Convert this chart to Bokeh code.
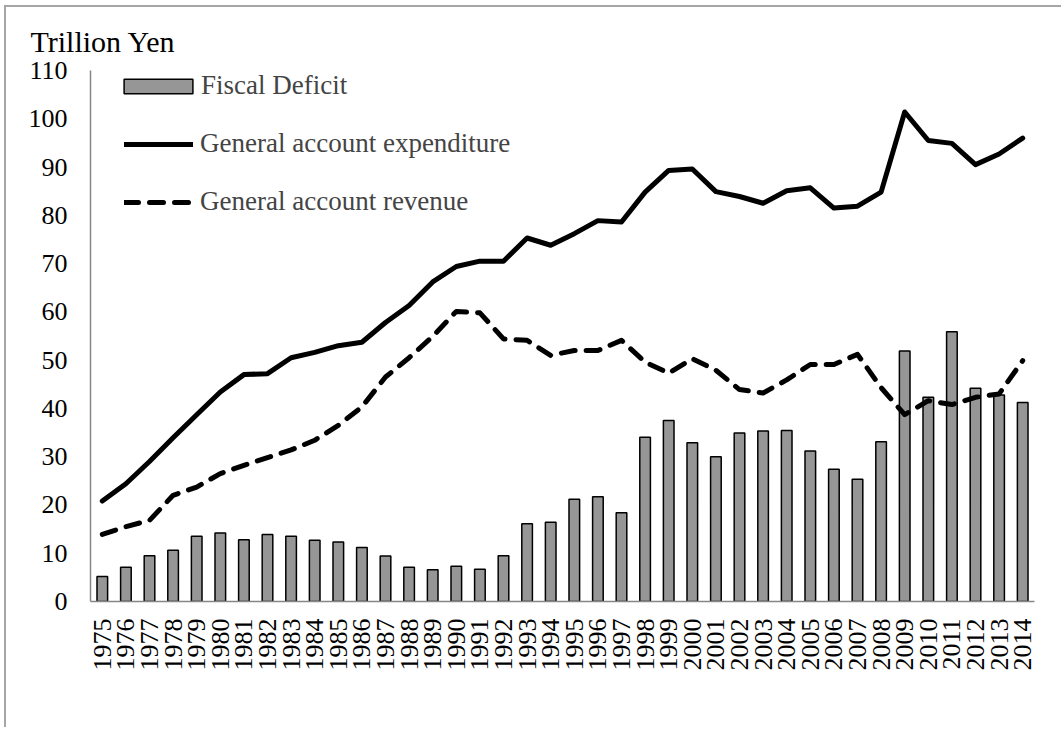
import math
from bokeh.plotting import figure
from bokeh.models import Range1d, FixedTicker, Legend, LegendItem, ColumnDataSource
from bokeh.embed import file_html
from bokeh.resources import INLINE

years = list(range(1975, 2015))
fiscal_deficit = [5.2, 7.1, 9.5, 10.6, 13.5, 14.2, 12.8, 13.9, 13.5, 12.7,
                  12.3, 11.2, 9.4, 7.1, 6.6, 7.3, 6.7, 9.5, 16.1, 16.4,
                  21.2, 21.7, 18.4, 34.0, 37.5, 32.9, 30.0, 34.9, 35.3, 35.4,
                  31.2, 27.4, 25.3, 33.1, 51.9, 42.3, 55.9, 44.2, 42.8, 41.2]
expenditure = [20.8, 24.4, 29.0, 33.9, 38.7, 43.4, 47.0, 47.2, 50.5, 51.6,
               53.0, 53.7, 57.8, 61.3, 66.2, 69.4, 70.5, 70.5, 75.3, 73.8,
               76.2, 78.9, 78.6, 84.8, 89.3, 89.6, 84.9, 83.9, 82.5, 85.1,
               85.7, 81.5, 81.9, 84.8, 101.4, 95.5, 94.9, 90.5, 92.7, 96.0]
revenue = [13.9, 15.5, 16.8, 22.0, 23.7, 26.5, 28.2, 29.8, 31.4, 33.4,
           36.5, 40.3, 46.5, 50.5, 54.9, 60.1, 59.8, 54.4, 54.1, 51.0,
           52.0, 52.0, 54.1, 49.6, 47.3, 50.3, 47.9, 43.9, 43.2, 45.9,
           49.1, 49.1, 51.2, 44.3, 38.7, 41.6, 40.8, 42.3, 43.0, 49.9]
y_ticks = list(range(0, 111, 10))
title_text = "Trillion Yen"

src = ColumnDataSource(dict(year=years, deficit=fiscal_deficit, exp=expenditure, rev=revenue))

FONT = "Liberation Serif"

p = figure(width=1057, height=722, output_backend="svg", toolbar_location=None,
           x_range=Range1d(years[0] - 0.5, years[-1] + 0.5), y_range=Range1d(0, 110),
           min_border_left=84, min_border_top=63, min_border_right=29, min_border_bottom=128)
p.margin = (5, 0, 0, 4)
p.styles = {"border-left": "2px solid #a6a6a6", "border-top": "2px solid #a6a6a6"}
p.outline_line_color = None
p.xgrid.visible = False
p.ygrid.visible = False
p.background_fill_color = "white"
p.border_fill_color = "white"

p.title.text = title_text
p.title.align = "left"
p.title.offset = -60
p.title.standoff = 26
p.title.text_font = FONT
p.title.text_font_size = "30px"
p.title.text_font_style = "normal"
p.title.text_color = "black"

bars = p.vbar(x="year", top="deficit", width=0.45, source=src,
              fill_color="#969696", line_color="black", line_width=1.5)
exp_line = p.line(x="year", y="exp", source=src, line_color="black", line_width=5,
                  line_join="round", line_cap="round")
rev_line = p.line(x="year", y="rev", source=src, line_color="black", line_width=5,
                  line_dash="14 11", line_join="round", line_cap="round")

for ax in (p.xaxis[0], p.yaxis[0]):
    ax.axis_line_color = "#868686"
    ax.axis_line_width = 1.5
    ax.major_tick_line_color = None
    ax.minor_tick_line_color = None
    ax.major_tick_out = 0
    ax.major_tick_in = 0
    ax.minor_tick_out = 0
    ax.minor_tick_in = 0
    ax.major_label_text_font = FONT
    ax.major_label_text_font_size = "26px"
    ax.major_label_text_color = "black"

p.xaxis.ticker = FixedTicker(ticks=years)
p.xaxis.major_label_orientation = math.pi / 2
p.xaxis.major_label_standoff = 17
p.yaxis.ticker = FixedTicker(ticks=y_ticks)
p.yaxis.major_label_standoff = 23

leg1 = Legend(items=[LegendItem(label="Fiscal Deficit", renderers=[bars])],
              location=(25, 500), glyph_width=86, glyph_height=18, label_height=30,
              label_standoff=0, padding=0, margin=0, spacing=0,
              label_text_font=FONT, label_text_font_size="27px",
              border_line_color=None, background_fill_alpha=0)
leg2 = Legend(items=[LegendItem(label="General account expenditure", renderers=[exp_line]),
                     LegendItem(label="General account revenue", renderers=[rev_line])],
              location=(34, 384), glyph_width=69, glyph_height=30, label_height=30,
              label_standoff=7, padding=0, margin=0, spacing=27,
              label_text_font=FONT, label_text_font_size="27px",
              border_line_color=None, background_fill_alpha=0)
p.add_layout(leg1)
p.add_layout(leg2)

open("out.html", "w").write(file_html(p, INLINE))
